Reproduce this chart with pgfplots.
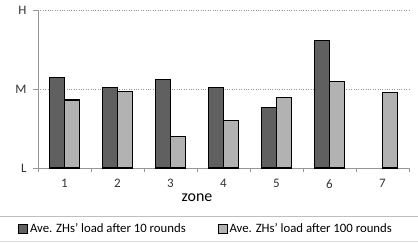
\documentclass[border=0pt]{standalone}
\usepackage{pgfplots}
\pgfplotsset{compat=1.18}
\usepackage{fontspec}
\setmainfont{Carlito}
\definecolor{darkbar}{RGB}{96,96,96}
\definecolor{lightbar}{RGB}{178,178,178}
\definecolor{axgray}{RGB}{150,150,150}
\begin{document}
\begin{tikzpicture}
\useasboundingbox (-38bp,-75bp) rectangle (380bp,168bp);
\begin{axis}[
  at={(0,0)}, anchor=south west,
  scale only axis, width=371bp, height=158bp,
  xmin=0.5, xmax=7.5, ymin=0, ymax=2,
  axis x line*=bottom, axis y line*=left,
  axis line style={axgray, line width=0.8pt},
  xtick={1,...,7}, major x tick style={draw=none},
  minor xtick={0.5,1.5,...,7.5},
  minor x tick style={axgray, line width=0.6pt},
  minor tick length=4bp,
  xticklabel style={font=\fontsize{13}{15}\selectfont, text=black!80, yshift=-3bp},
  ytick={0,1,2}, yticklabels={L,M,H},
  yticklabel style={font=\fontsize{13}{15}\selectfont, text=black!80, xshift=-3bp},
  major y tick style={axgray, line width=0.6pt},
  tick align=outside, major tick length=5bp,
  ymajorgrids, grid style={axgray, dotted, line width=0.6pt},
  xlabel={zone},
  xlabel style={font=\fontsize{16}{18}\selectfont, at={(rel axis cs:0.4286,0)}, anchor=north, yshift=-22bp},
  /pgf/number format/assume math mode=true,
  ybar, bar width=15bp,
  legend columns=2,
  legend style={at={(rel axis cs:-0.0539,-0.386)}, anchor=west, draw=none, fill=none,
    font=\fontsize{12.8}{15}\selectfont, column sep=1bp, inner sep=0pt,
    nodes={inner sep=1bp}},
  legend image code/.code={\draw[#1, line width=0.8pt] (0bp,-4.5bp) rectangle (9bp,4.5bp);},
]
\addplot[fill=darkbar, draw=black, line width=1.2pt, bar shift=-7.5bp] coordinates {
(1,1.15) (2,1.02) (3,1.12) (4,1.02) (5,0.77) (6,1.61)};
\addplot[fill=lightbar, draw=black, line width=1.2pt, bar shift=7.5bp] coordinates {
(1,0.86) (2,0.97) (3,0.40) (4,0.60) (5,0.89) (6,1.09) (7,0.96)};
\legend{Ave. ZHs' load after 10 rounds\rule{30bp}{0pt}, Ave. ZHs' load after 100 rounds}
\end{axis}
\draw[gray!50, line width=0.8pt] (-38bp,-48bp) -- (380bp,-48bp);
\draw[gray!30, line width=0.8pt] (-38bp,-73bp) -- (380bp,-73bp);
\end{tikzpicture}
\end{document}
